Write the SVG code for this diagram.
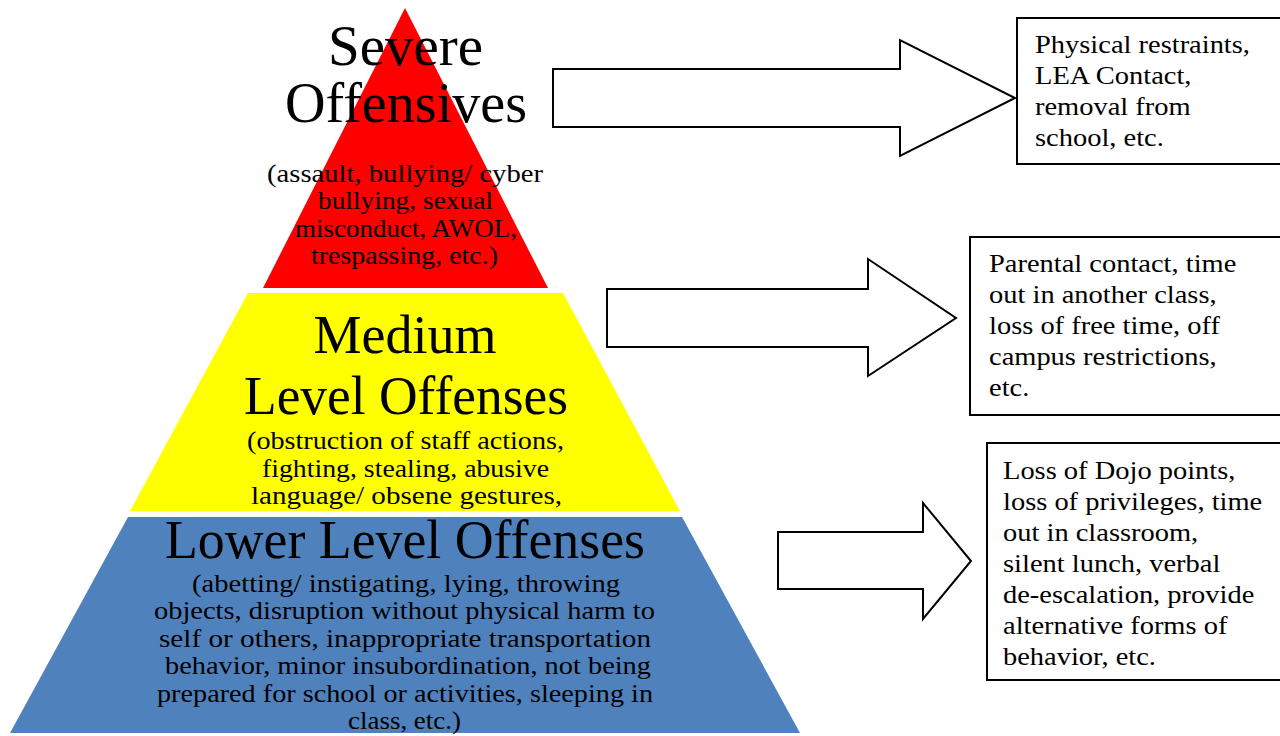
<svg xmlns="http://www.w3.org/2000/svg" width="1280" height="736" viewBox="0 0 1280 736">
<style>
.t{font-family:"Liberation Serif","Times New Roman",serif;fill:#000;text-anchor:middle}
.h{font-size:56px}
.h2{font-size:55px}
.s{font-size:26px}
.m{font-size:26px}
.b{font-family:"Liberation Serif","Times New Roman",serif;font-size:26px;fill:#000}
.arrow{fill:#fff;stroke:#000;stroke-width:2;stroke-linejoin:miter}
.box{fill:#fff;stroke:#000;stroke-width:2}
</style>
<rect width="1280" height="736" fill="#fff"/>
<g id="severe">
<polygon points="405,8 548,288 263,288" fill="#ff0000"/>
<text class="t h" x="405.5" y="65" textLength="155" lengthAdjust="spacingAndGlyphs">Severe</text>
<text class="t h" x="406" y="122" textLength="242" lengthAdjust="spacingAndGlyphs">Offensives</text>
<text class="t s" x="405" y="182" textLength="276" lengthAdjust="spacingAndGlyphs">(assault, bullying/ cyber</text>
<text class="t s" x="405.5" y="209" textLength="175" lengthAdjust="spacingAndGlyphs">bullying, sexual</text>
<text class="t s" x="406" y="237" textLength="222" lengthAdjust="spacingAndGlyphs">misconduct, AWOL,</text>
<text class="t s" x="404.5" y="264" textLength="187" lengthAdjust="spacingAndGlyphs">trespassing, etc.)</text>
</g>
<g id="medium">
<polygon points="248,293 563,293 680,511 130,511" fill="#ffff00"/>
<text class="t h2" x="405" y="353" textLength="183" lengthAdjust="spacingAndGlyphs">Medium</text>
<text class="t h2" x="406" y="414" textLength="324" lengthAdjust="spacingAndGlyphs">Level Offenses</text>
<text class="t m" x="405.5" y="449" textLength="317" lengthAdjust="spacingAndGlyphs">(obstruction of staff actions,</text>
<text class="t m" x="405.5" y="477" textLength="287" lengthAdjust="spacingAndGlyphs">fighting, stealing, abusive</text>
<text class="t m" x="406.5" y="504" textLength="311" lengthAdjust="spacingAndGlyphs">language/ obsene gestures,</text>
</g>
<g id="lower">
<polygon points="128,517 682,517 800,733 10,733" fill="#4f81bd"/>
<text class="t h2" x="405" y="558" textLength="480" lengthAdjust="spacingAndGlyphs">Lower Level Offenses</text>
<text class="t m" x="406" y="592" textLength="428" lengthAdjust="spacingAndGlyphs">(abetting/ instigating, lying, throwing</text>
<text class="t m" x="404.5" y="619" textLength="501" lengthAdjust="spacingAndGlyphs">objects, disruption without physical harm to</text>
<text class="t m" x="405" y="647" textLength="492" lengthAdjust="spacingAndGlyphs">self or others, inappropriate transportation</text>
<text class="t m" x="408" y="674" textLength="486" lengthAdjust="spacingAndGlyphs">behavior, minor insubordination, not being</text>
<text class="t m" x="405" y="702" textLength="496" lengthAdjust="spacingAndGlyphs">prepared for school or activities, sleeping in</text>
<text class="t m" x="404.5" y="729" textLength="113" lengthAdjust="spacingAndGlyphs">class, etc.)</text>
</g>
<g id="connectors">
<polygon class="arrow" points="553,69 900,69 900,40 1015,98 900,156 900,127 553,127"/>
<polygon class="arrow" points="607,289 868,289 868,259 956,318 868,376 868,347 607,347"/>
<polygon class="arrow" points="778,532 923,532 923,503 971,561 923,619 923,589 778,589"/>
</g>
<g id="box-severe">
<rect class="box" x="1017" y="18" width="280" height="146"/>
<g transform="translate(1035 0) scale(1.095 1)">
<text class="b" x="0" y="53">Physical restraints,</text>
<text class="b" x="0" y="84">LEA Contact,</text>
<text class="b" x="0" y="115">removal from</text>
<text class="b" x="0" y="146">school, etc.</text>
</g>
</g>
<g id="box-medium">
<rect class="box" x="970" y="237" width="330" height="178"/>
<g transform="translate(989 0) scale(1.095 1)">
<text class="b" x="0" y="272">Parental contact, time</text>
<text class="b" x="0" y="303">out in another class,</text>
<text class="b" x="0" y="334">loss of free time, off</text>
<text class="b" x="0" y="365">campus restrictions,</text>
<text class="b" x="0" y="396">etc.</text>
</g>
</g>
<g id="box-lower">
<rect class="box" x="987" y="443" width="310" height="237"/>
<g transform="translate(1003 0) scale(1.095 1)">
<text class="b" x="0" y="479">Loss of Dojo points,</text>
<text class="b" x="0" y="510">loss of privileges, time</text>
<text class="b" x="0" y="541">out in classroom,</text>
<text class="b" x="0" y="572">silent lunch, verbal</text>
<text class="b" x="0" y="603">de-escalation, provide</text>
<text class="b" x="0" y="634">alternative forms of</text>
<text class="b" x="0" y="665">behavior, etc.</text>
</g>
</g>
</svg>
